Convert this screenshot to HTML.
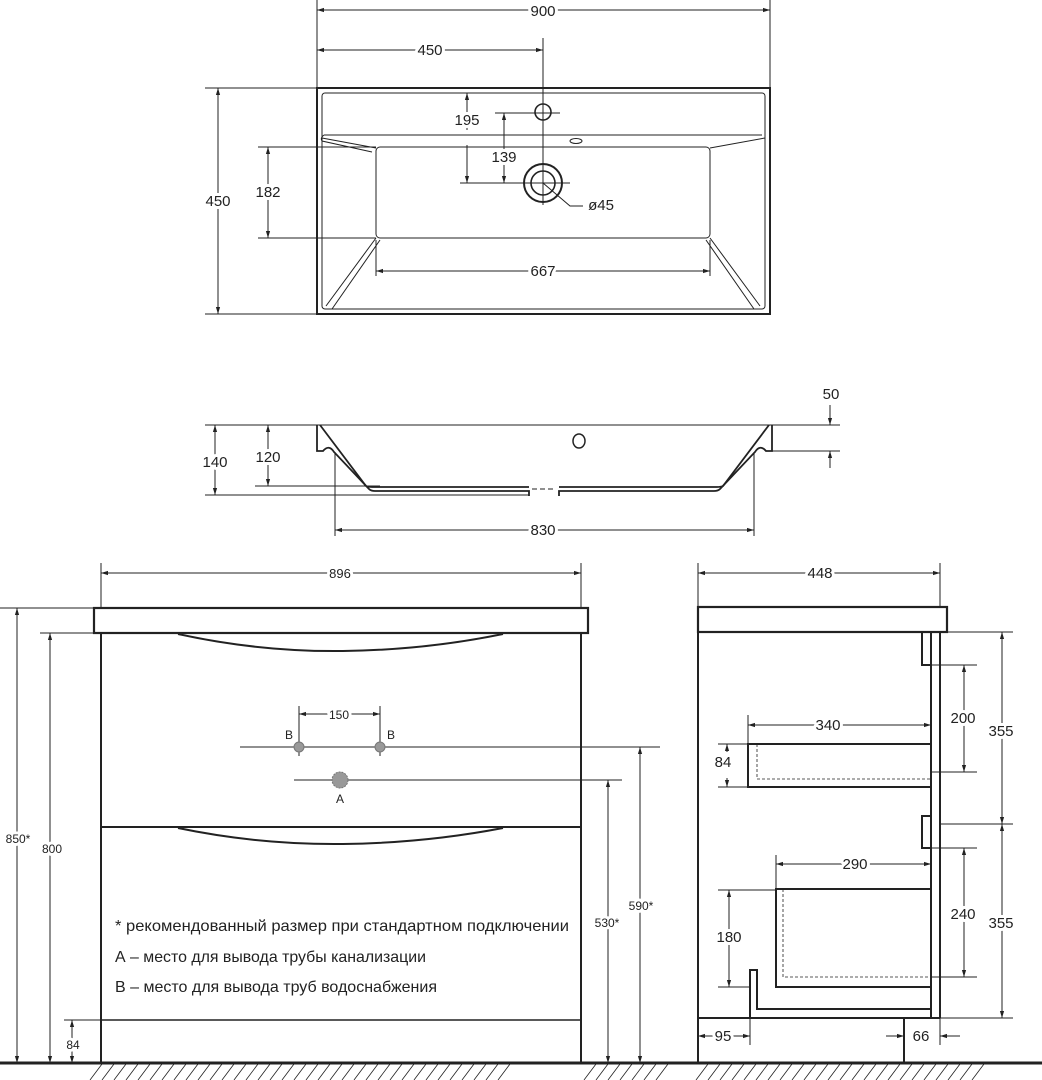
<!DOCTYPE html>
<html><head><meta charset="utf-8"><style>
html,body{margin:0;padding:0;background:#fff;}
svg{display:block;}
text{font-family:"Liberation Sans",sans-serif;fill:#222;paint-order:stroke;stroke:#fff;stroke-width:6px;stroke-linejoin:round;}
.n{font-size:15px;text-anchor:middle;}
.s{font-size:13px;text-anchor:middle;}
.t{font-size:16px;stroke-width:0;}
</style></head><body>
<svg width="1042" height="1080" viewBox="0 0 1042 1080" xmlns="http://www.w3.org/2000/svg">
<defs>
<marker id="a" viewBox="0 0 10 10" refX="10" refY="5" markerWidth="7" markerHeight="7" orient="auto-start-reverse"><path d="M0,2 L10,5 L0,8 z" fill="#222"/></marker>
</defs>
<g fill="none" stroke="#222" stroke-width="1">
<!-- TOP VIEW -->
<line x1="317" y1="0" x2="317" y2="88"/><line x1="770" y1="0" x2="770" y2="88"/>
<line x1="317" y1="10" x2="770" y2="10" marker-start="url(#a)" marker-end="url(#a)"/>
<line x1="317" y1="50" x2="543" y2="50" marker-start="url(#a)" marker-end="url(#a)"/>
<line x1="543" y1="38" x2="543" y2="205"/>
<rect x="317" y="88" width="453" height="226" stroke-width="2"/>
<rect x="322" y="93" width="443" height="216" rx="3"/>
<path d="M322,138 L376,148 M324,135 L762,135 M765,138 L710,148 M324,135 Q320,138 322,141 L372,152"/>
<rect x="376" y="147" width="334" height="91" rx="4"/>
<path d="M376,238 L326,306 M380,240 L332,309 M710,238 L760,306 M706,240 L754,309"/>
<circle cx="543" cy="112" r="8" stroke-width="1.6"/>
<ellipse cx="576" cy="141" rx="6" ry="2.5"/>
<circle cx="543" cy="183" r="19" stroke-width="2"/>
<circle cx="543" cy="183" r="12" stroke-width="1.6"/>
<line x1="495" y1="113" x2="560" y2="113"/><line x1="460" y1="183" x2="570" y2="183"/>
<line x1="467" y1="130" x2="467" y2="93" marker-end="url(#a)"/>
<line x1="467" y1="145" x2="467" y2="183" marker-end="url(#a)"/>
<line x1="504" y1="113" x2="504" y2="183" marker-start="url(#a)" marker-end="url(#a)"/>
<path d="M543,183 L570,206 L583,206"/>
<line x1="205" y1="88" x2="317" y2="88"/><line x1="205" y1="314" x2="317" y2="314"/>
<line x1="218" y1="88" x2="218" y2="314" marker-start="url(#a)" marker-end="url(#a)"/>
<line x1="258" y1="147" x2="376" y2="147"/><line x1="258" y1="238" x2="376" y2="238"/>
<line x1="268" y1="147" x2="268" y2="238" marker-start="url(#a)" marker-end="url(#a)"/>
<line x1="376" y1="240" x2="376" y2="276"/><line x1="710" y1="240" x2="710" y2="276"/>
<line x1="376" y1="271" x2="710" y2="271" marker-start="url(#a)" marker-end="url(#a)"/>

<!-- SECTION VIEW -->
<line x1="205" y1="425" x2="840" y2="425"/>
<path d="M317,425 V451 H323 Q329,444 334,452 L369,489 Q371,491 375,491 H529 V496" stroke-width="1.8"/>
<path d="M320,425 L366,486 Q368,487 372,487 H529" stroke-width="1.8"/>
<path d="M772,425 V451 H766 Q760,444 755,452 L720,489 Q718,491 714,491 H559 V496" stroke-width="1.8"/>
<path d="M769,425 L723,486 Q721,487 717,487 H559" stroke-width="1.8"/>
<line x1="532" y1="489" x2="556" y2="489" stroke-dasharray="5,3"/>
<ellipse cx="579" cy="441" rx="6" ry="7" stroke-width="1.5"/>
<line x1="255" y1="486" x2="380" y2="486"/><line x1="205" y1="495" x2="529" y2="495"/>
<line x1="215" y1="425" x2="215" y2="495" marker-start="url(#a)" marker-end="url(#a)"/>
<line x1="268" y1="425" x2="268" y2="486" marker-start="url(#a)" marker-end="url(#a)"/>
<line x1="772" y1="451" x2="840" y2="451"/>
<line x1="830" y1="405" x2="830" y2="425" marker-end="url(#a)"/>
<line x1="830" y1="468" x2="830" y2="451" marker-end="url(#a)"/>
<line x1="335" y1="452" x2="335" y2="536"/><line x1="754" y1="452" x2="754" y2="536"/>
<line x1="335" y1="530" x2="754" y2="530" marker-start="url(#a)" marker-end="url(#a)"/>

<!-- FRONT VIEW -->
<line x1="101" y1="563" x2="101" y2="608"/><line x1="581" y1="563" x2="581" y2="608"/>
<line x1="101" y1="573" x2="581" y2="573" marker-start="url(#a)" marker-end="url(#a)"/>
<rect x="94" y="608" width="494" height="25" stroke-width="2.2"/>
<path d="M101,633 V1063 M581,633 V1063" stroke-width="2"/>
<line x1="101" y1="827" x2="581" y2="827" stroke-width="2"/>
<line x1="101" y1="1020" x2="581" y2="1020" stroke-width="1.6"/>
<path d="M178,634 Q260,652 343,651 Q425,650 503,634" stroke-width="2"/>
<path d="M178,828 Q260,845 343,844 Q425,843 503,828" stroke-width="2"/>
<line x1="240" y1="747" x2="660" y2="747"/><line x1="294" y1="780" x2="622" y2="780"/>
<line x1="299" y1="706" x2="299" y2="756"/><line x1="380" y1="706" x2="380" y2="756"/>
<line x1="299" y1="714" x2="380" y2="714" marker-start="url(#a)" marker-end="url(#a)"/>
<circle cx="299" cy="747" r="5" fill="#999" stroke="#777"/>
<circle cx="380" cy="747" r="5" fill="#999" stroke="#777"/>
<circle cx="340" cy="780" r="8" fill="#999" stroke="#777" stroke-dasharray="2,1"/>
<line x1="0" y1="608" x2="94" y2="608"/><line x1="40" y1="633" x2="101" y2="633"/>
<line x1="64" y1="1020" x2="101" y2="1020"/>
<line x1="17" y1="608" x2="17" y2="1063" marker-start="url(#a)" marker-end="url(#a)"/>
<line x1="50" y1="633" x2="50" y2="1063" marker-start="url(#a)" marker-end="url(#a)"/>
<line x1="72" y1="1020" x2="72" y2="1063" marker-start="url(#a)" marker-end="url(#a)"/>
<line x1="608" y1="780" x2="608" y2="1063" marker-start="url(#a)" marker-end="url(#a)"/>
<line x1="640" y1="747" x2="640" y2="1063" marker-start="url(#a)" marker-end="url(#a)"/>

<!-- SIDE VIEW -->
<line x1="698" y1="563" x2="698" y2="607"/><line x1="940" y1="563" x2="940" y2="607"/>
<line x1="698" y1="573" x2="940" y2="573" marker-start="url(#a)" marker-end="url(#a)"/>
<rect x="698" y="607" width="249" height="25" stroke-width="2.2"/>
<path d="M698,632 V1063 M904,1018 V1063 M698,1018 H940 M931,632 V1018 M940,632 V1018" stroke-width="2"/>
<path d="M931,632 H922 V665 H931 M931,816 H922 V848 H931" stroke-width="2"/>
<path d="M931,744 H748 V787 H931 M931,889 H776 V987 H931 M750,1017 V970 H757 V1009 H931" stroke-width="2"/>
<path d="M757,744 V779 H931 M783,889 V977 H931" stroke-dasharray="3,2" stroke-width="0.8"/>
<line x1="748" y1="715" x2="748" y2="744"/><line x1="776" y1="855" x2="776" y2="889"/>
<line x1="748" y1="725" x2="931" y2="725" marker-start="url(#a)" marker-end="url(#a)"/>
<line x1="776" y1="864" x2="931" y2="864" marker-start="url(#a)" marker-end="url(#a)"/>
<line x1="718" y1="744" x2="748" y2="744"/><line x1="718" y1="787" x2="748" y2="787"/>
<line x1="727" y1="744" x2="727" y2="752" marker-start="url(#a)"/>
<line x1="727" y1="778" x2="727" y2="787" marker-end="url(#a)"/>
<line x1="718" y1="890" x2="776" y2="890"/><line x1="718" y1="987" x2="750" y2="987"/>
<line x1="729" y1="890" x2="729" y2="987" marker-start="url(#a)" marker-end="url(#a)"/>
<path d="M940,632 H1013 M931,665 H977 M931,772 H977 M940,824 H1013 M931,848 H977 M931,977 H977 M940,1018 H1013"/>
<line x1="964" y1="665" x2="964" y2="772" marker-start="url(#a)" marker-end="url(#a)"/>
<line x1="964" y1="848" x2="964" y2="977" marker-start="url(#a)" marker-end="url(#a)"/>
<line x1="1002" y1="632" x2="1002" y2="824" marker-start="url(#a)" marker-end="url(#a)"/>
<line x1="1002" y1="824" x2="1002" y2="1018" marker-start="url(#a)" marker-end="url(#a)"/>
<line x1="750" y1="1017" x2="750" y2="1045"/><line x1="940" y1="1018" x2="940" y2="1045"/>
<line x1="698" y1="1036" x2="750" y2="1036" marker-start="url(#a)" marker-end="url(#a)"/>
<line x1="886" y1="1036" x2="904" y2="1036" marker-end="url(#a)"/>
<line x1="960" y1="1036" x2="940" y2="1036" marker-end="url(#a)"/>

<!-- FLOOR -->
<line x1="0" y1="1063" x2="1042" y2="1063" stroke-width="3"/>
<g stroke-width="0.8">
<path d="M90,1080 l12,-16 M102,1080 l12,-16 M114,1080 l12,-16 M126,1080 l12,-16 M138,1080 l12,-16 M150,1080 l12,-16 M162,1080 l12,-16 M174,1080 l12,-16 M186,1080 l12,-16 M198,1080 l12,-16 M210,1080 l12,-16 M222,1080 l12,-16 M234,1080 l12,-16 M246,1080 l12,-16 M258,1080 l12,-16 M270,1080 l12,-16 M282,1080 l12,-16 M294,1080 l12,-16 M306,1080 l12,-16 M318,1080 l12,-16 M330,1080 l12,-16 M342,1080 l12,-16 M354,1080 l12,-16 M366,1080 l12,-16 M378,1080 l12,-16 M390,1080 l12,-16 M402,1080 l12,-16 M414,1080 l12,-16 M426,1080 l12,-16 M438,1080 l12,-16 M450,1080 l12,-16 M462,1080 l12,-16 M474,1080 l12,-16 M486,1080 l12,-16 M498,1080 l12,-16"/>
<path d="M584,1080 l12,-16 M596,1080 l12,-16 M608,1080 l12,-16 M620,1080 l12,-16 M632,1080 l12,-16 M644,1080 l12,-16 M656,1080 l12,-16"/>
<path d="M696,1080 l12,-16 M708,1080 l12,-16 M720,1080 l12,-16 M732,1080 l12,-16 M744,1080 l12,-16 M756,1080 l12,-16 M768,1080 l12,-16 M780,1080 l12,-16 M792,1080 l12,-16 M804,1080 l12,-16 M816,1080 l12,-16 M828,1080 l12,-16 M840,1080 l12,-16 M852,1080 l12,-16 M864,1080 l12,-16 M876,1080 l12,-16 M888,1080 l12,-16 M900,1080 l12,-16 M912,1080 l12,-16 M924,1080 l12,-16 M936,1080 l12,-16 M948,1080 l12,-16 M960,1080 l12,-16 M972,1080 l12,-16"/>
</g>
</g>

<!-- TEXT -->
<text class="n" x="543" y="16">900</text>
<text class="n" x="430" y="55">450</text>
<text class="n" x="467" y="125">195</text>
<text class="n" x="504" y="162">139</text>
<text class="n" x="601" y="210" style="stroke-width:0">ø45</text>
<text class="n" x="218" y="206">450</text>
<text class="n" x="268" y="197">182</text>
<text class="n" x="543" y="276">667</text>
<text class="n" x="831" y="399" style="stroke-width:0">50</text>
<text class="n" x="215" y="467">140</text>
<text class="n" x="268" y="462">120</text>
<text class="n" x="543" y="535">830</text>

<text class="s" x="340" y="578">896</text>
<text class="s" x="339" y="719" style="font-size:12px">150</text>
<text class="s" x="289" y="739" style="font-size:12px;stroke-width:0">B</text>
<text class="s" x="391" y="739" style="font-size:12px;stroke-width:0">B</text>
<text class="s" x="340" y="803" style="font-size:12px;stroke-width:0">A</text>
<text class="s" x="18" y="843" style="font-size:12px">850*</text>
<text class="s" x="52" y="853" style="font-size:12px">800</text>
<text class="s" x="73" y="1049" style="font-size:12px">84</text>
<text class="s" x="607" y="927" style="font-size:12px">530*</text>
<text class="s" x="641" y="910" style="font-size:12px">590*</text>
<text class="t" x="115" y="931" textLength="454" lengthAdjust="spacingAndGlyphs">* рекомендованный размер при стандартном подключении</text>
<text class="t" x="115" y="962" textLength="311" lengthAdjust="spacingAndGlyphs">А – место для вывода трубы канализации</text>
<text class="t" x="115" y="992" textLength="322" lengthAdjust="spacingAndGlyphs">В – место для вывода труб водоснабжения</text>

<text class="n" x="820" y="578">448</text>
<text class="n" x="828" y="730">340</text>
<text class="n" x="855" y="869">290</text>
<text class="n" x="723" y="767">84</text>
<text class="n" x="729" y="942">180</text>
<text class="n" x="963" y="723">200</text>
<text class="n" x="963" y="919">240</text>
<text class="n" x="1001" y="736">355</text>
<text class="n" x="1001" y="928">355</text>
<text class="n" x="723" y="1041">95</text>
<text class="n" x="921" y="1041" style="stroke-width:0">66</text>
</svg>
</body></html>
